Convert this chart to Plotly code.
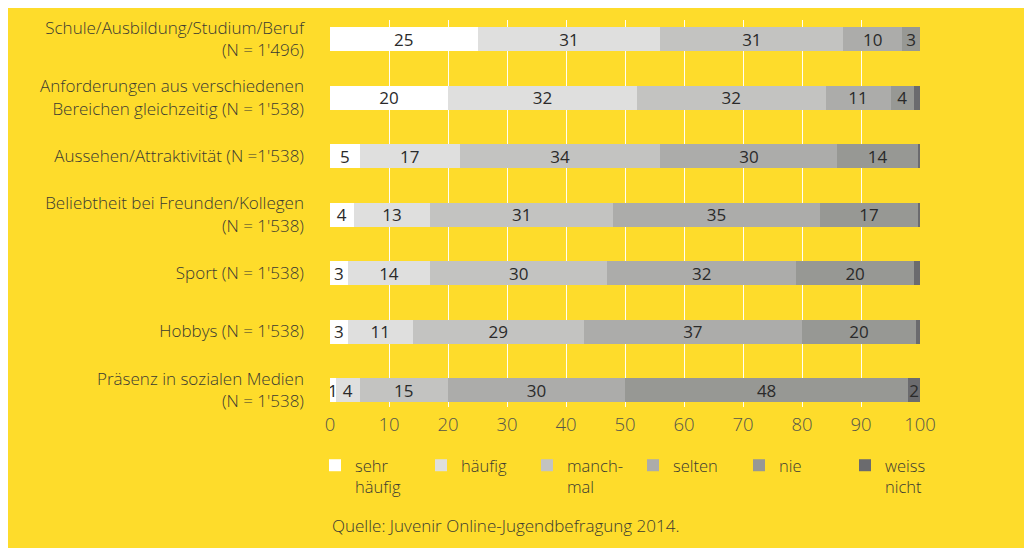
import plotly.graph_objects as go

categories = [
    "Schule/Ausbildung/Studium/Beruf<br>(N = 1'496)",
    "Anforderungen aus verschiedenen<br>Bereichen gleichzeitig (N = 1'538)",
    "Aussehen/Attraktivität (N =1'538)",
    "Beliebtheit bei Freunden/Kollegen<br>(N = 1'538)",
    "Sport (N = 1'538)",
    "Hobbys (N = 1'538)",
    "Präsenz in sozialen Medien<br>(N = 1'538)",
]

series_names = ["sehr<br>häufig", "häufig", "manch-<br>mal", "selten", "nie", "weiss<br>nicht"]

sehr_haeufig = [25, 20, 5, 4, 3, 3, 1]
haeufig = [31, 32, 17, 13, 14, 11, 4]
manchmal = [31, 32, 34, 31, 30, 29, 15]
selten = [10, 11, 30, 35, 32, 37, 30]
nie = [3, 4, 13.6, 16.7, 20, 19.3, 48]
weiss_nicht = [0, 1, 0.4, 0.3, 1, 0.7, 2]

sehr_haeufig_labels = ["25", "20", "5", "4", "3", "3", "1"]
haeufig_labels = ["31", "32", "17", "13", "14", "11", "4"]
manchmal_labels = ["31", "32", "34", "31", "30", "29", "15"]
selten_labels = ["10", "11", "30", "35", "32", "37", "30"]
nie_labels = ["3", "4", "14", "17", "20", "20", "48"]
weiss_nicht_labels = ["", "", "", "", "", "", "2"]

x_ticks = [0, 10, 20, 30, 40, 50, 60, 70, 80, 90, 100]

source_text = "Quelle: Juvenir Online-Jugendbefragung 2014."

colors = ["#FFFFFF", "#DFDFDE", "#C3C3C1", "#ACACAA", "#979894", "#6B6B6E"]
YELLOW = "#FEDC2B"
FONT = "Open Sans"
TEXT_COLOR = "#3a3a32"

all_values = [sehr_haeufig, haeufig, manchmal, selten, nie, weiss_nicht]
all_labels = [sehr_haeufig_labels, haeufig_labels, manchmal_labels, selten_labels, nie_labels, weiss_nicht_labels]

fig = go.Figure()
for name, vals, labs, col in zip(series_names, all_values, all_labels, colors):
    fig.add_trace(go.Bar(
        y=categories, x=vals, name=name, orientation="h",
        marker=dict(color=col, line=dict(width=0)),
        text=labs, textposition="inside", insidetextanchor="middle",
        textangle=0, constraintext="none",
        textfont=dict(family=FONT, size=17, color="#2a2a2a", weight=400),
        hoverinfo="x+name",
    ))

# page body has an 8px margin: screen pixel = layout pixel + 8
OFF = 8
W, H = 1032 - OFF, 548 - OFF
L, R, T, B = 330 - OFF, 1032 - 920, 20 - OFF, 548 - 407
pw = W - L - R
ph = H - T - B

def px_x(p):
    return (p - OFF - L) / pw

def px_y(p):
    return (H - B - (p - OFF)) / ph

fig.add_annotation(text=source_text, xref="paper", yref="paper",
                   x=px_x(330), y=px_y(525), xanchor="left", yanchor="middle",
                   showarrow=False,
                   font=dict(family=FONT, size=17, color=TEXT_COLOR, weight=300))

fig.update_layout(
    width=W, height=H,
    margin=dict(l=L, r=R, t=T, b=B, pad=0, autoexpand=False),
    paper_bgcolor=YELLOW,
    plot_bgcolor="rgba(0,0,0,0)",
    barmode="stack",
    bargap=0.59,
    font=dict(family=FONT, color=TEXT_COLOR, weight=300),
    showlegend=True,
    legend=dict(
        orientation="h", x=px_x(315), y=px_y(448), xanchor="left", yanchor="top",
        bgcolor="rgba(0,0,0,0)", borderwidth=0,
        font=dict(family=FONT, size=16.5, color=TEXT_COLOR, weight=300),
        entrywidth=61, entrywidthmode="pixels",
        valign="top", traceorder="normal", itemclick=False,
    ),
    xaxis=dict(
        range=[0, 100], tickvals=x_ticks, ticktext=[str(v) for v in x_ticks],
        showgrid=True, gridcolor="rgba(255,255,255,0.95)", gridwidth=1,
        zeroline=False, showline=False, ticks="", automargin=False,
        tickfont=dict(family=FONT, size=18.5, color="#55554a", weight=300),
        ticklabelstandoff=4, fixedrange=True,
    ),
    yaxis=dict(
        type="category", categoryorder="array", categoryarray=categories,
        range=[6.29, -0.325], showgrid=False, zeroline=False, showline=False,
        ticks="", ticklabelstandoff=25, automargin=False,
        tickfont=dict(family=FONT, size=17, color=TEXT_COLOR, weight=300),
        fixedrange=True,
    ),
)

fig.write_html("out.html")
